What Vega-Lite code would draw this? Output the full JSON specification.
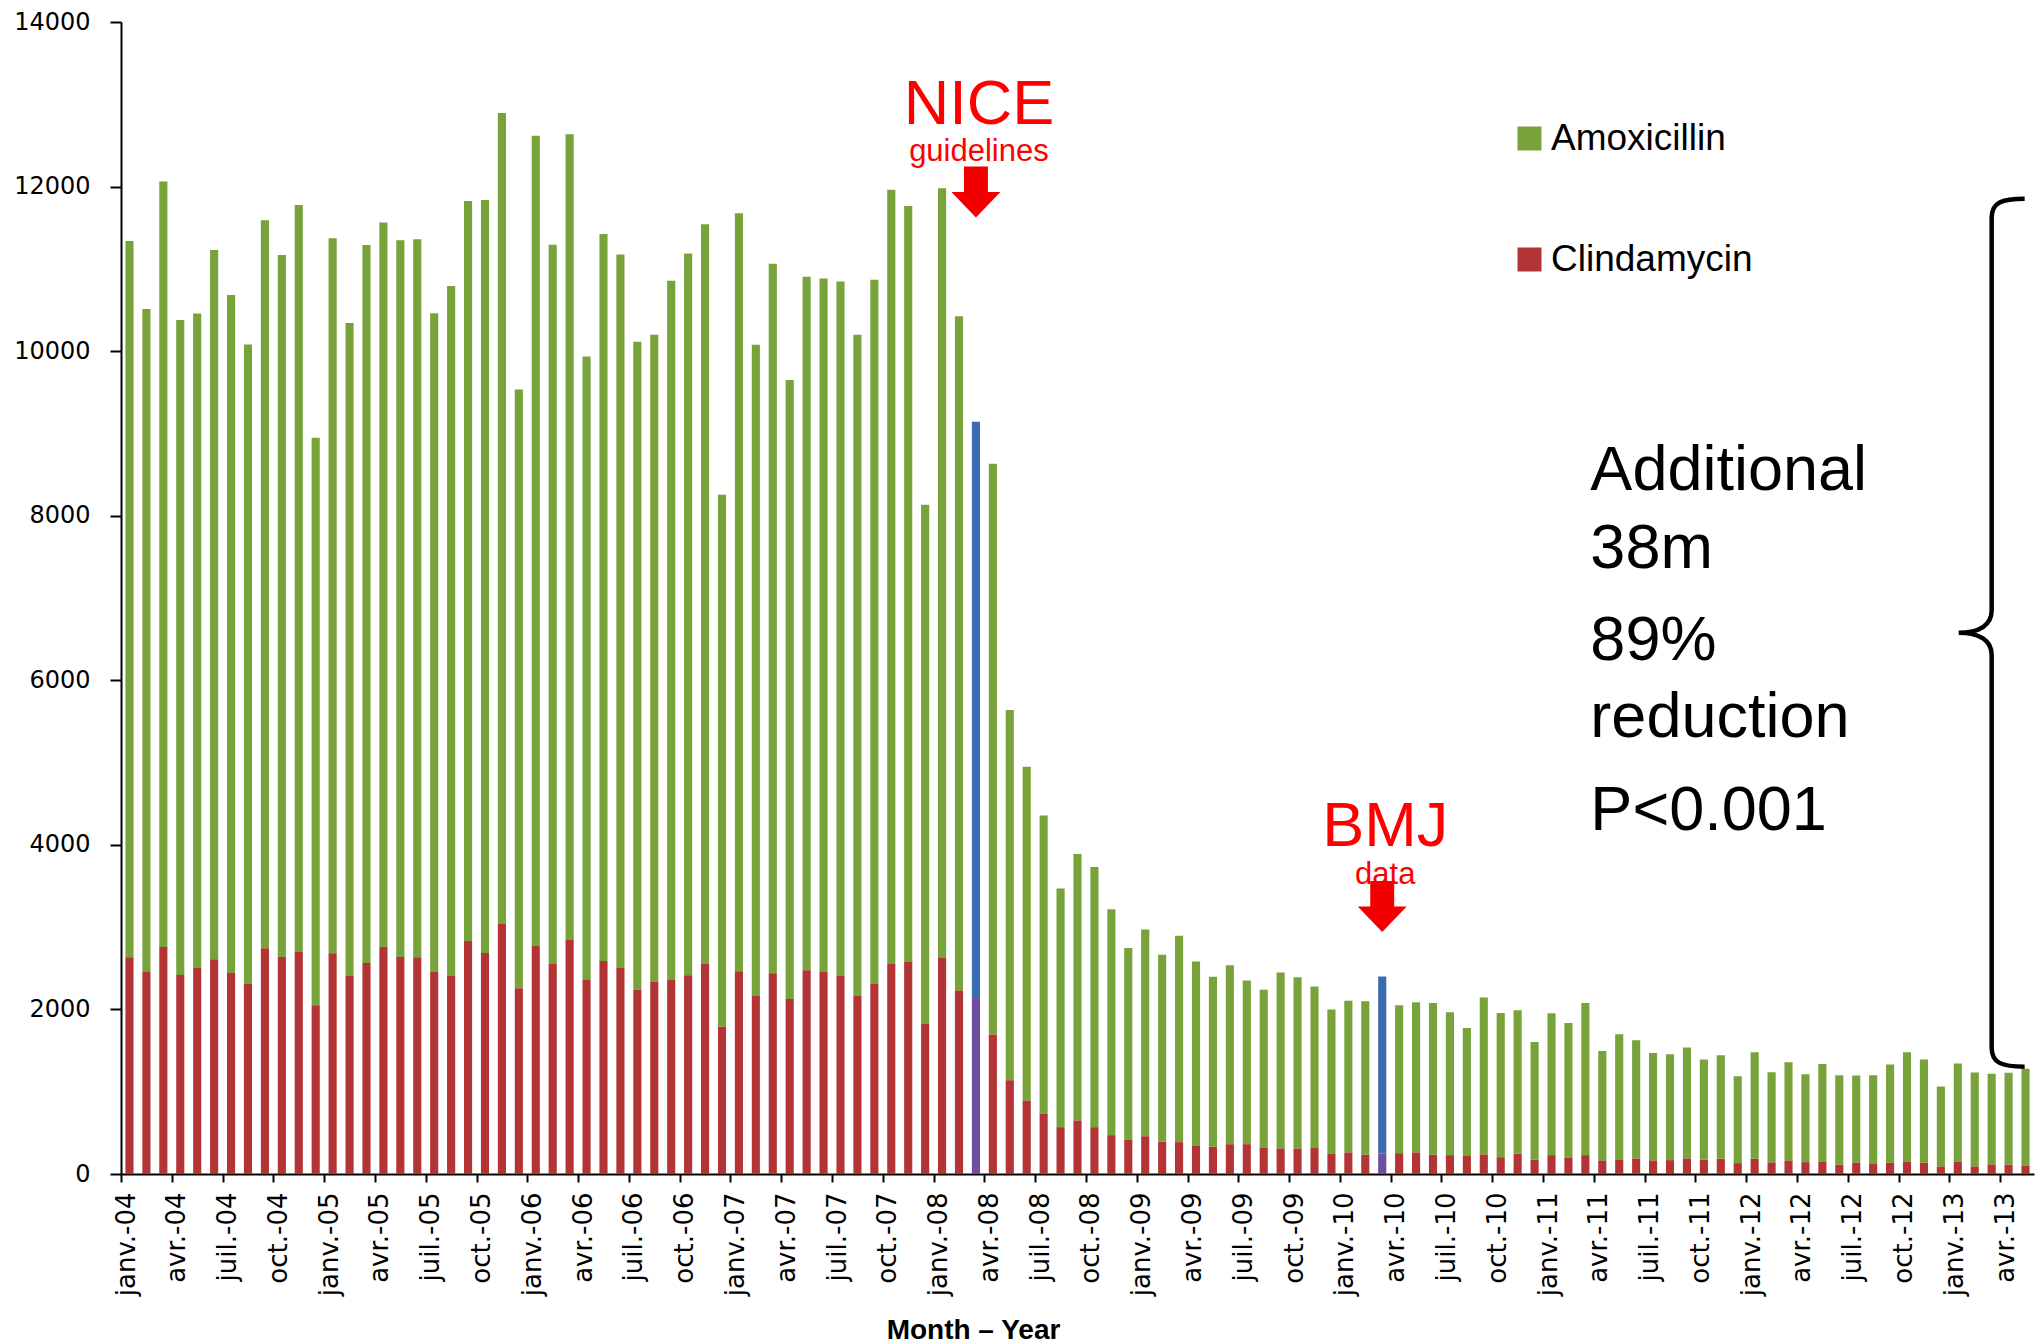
{
  "$schema": "https://vega.github.io/schema/vega-lite/v6.json",
  "width": 1913,
  "height": 1152,
  "autosize": {"type": "none"},
  "padding": {"left": 121, "top": 22, "right": 1, "bottom": 169},
  "background": "white",
  "config": {"view": {"stroke": null}},
  "layer": [
    {
      "data": {"values": [
        {"m":"janv.-04","Amoxicillin":8705,"Clindamycin":2634},
        {"m":"févr.-04","Amoxicillin":8055,"Clindamycin":2456},
        {"m":"mars-04","Amoxicillin":9301,"Clindamycin":2760},
        {"m":"avr.-04","Amoxicillin":7958,"Clindamycin":2419},
        {"m":"mai-04","Amoxicillin":7954,"Clindamycin":2504},
        {"m":"juin-04","Amoxicillin":8619,"Clindamycin":2610},
        {"m":"juil.-04","Amoxicillin":8237,"Clindamycin":2444},
        {"m":"août-04","Amoxicillin":7767,"Clindamycin":2314},
        {"m":"sept.-04","Amoxicillin":8847,"Clindamycin":2743},
        {"m":"oct.-04","Amoxicillin":8530,"Clindamycin":2638},
        {"m":"nov.-04","Amoxicillin":9078,"Clindamycin":2699},
        {"m":"déc.-04","Amoxicillin":6898,"Clindamycin":2051},
        {"m":"janv.-05","Amoxicillin":8688,"Clindamycin":2683},
        {"m":"févr.-05","Amoxicillin":7934,"Clindamycin":2407},
        {"m":"mars-05","Amoxicillin":8725,"Clindamycin":2565},
        {"m":"avr.-05","Amoxicillin":8802,"Clindamycin":2760},
        {"m":"mai-05","Amoxicillin":8709,"Clindamycin":2638},
        {"m":"juin-05","Amoxicillin":8725,"Clindamycin":2634},
        {"m":"juil.-05","Amoxicillin":8002,"Clindamycin":2460},
        {"m":"août-05","Amoxicillin":8384,"Clindamycin":2407},
        {"m":"sept.-05","Amoxicillin":8994,"Clindamycin":2832},
        {"m":"oct.-05","Amoxicillin":9151,"Clindamycin":2687},
        {"m":"nov.-05","Amoxicillin":9850,"Clindamycin":3043},
        {"m":"déc.-05","Amoxicillin":7276,"Clindamycin":2257},
        {"m":"janv.-06","Amoxicillin":9845,"Clindamycin":2772},
        {"m":"févr.-06","Amoxicillin":8741,"Clindamycin":2553},
        {"m":"mars-06","Amoxicillin":9791,"Clindamycin":2845},
        {"m":"avr.-06","Amoxicillin":7576,"Clindamycin":2359},
        {"m":"mai-06","Amoxicillin":8836,"Clindamycin":2589},
        {"m":"juin-06","Amoxicillin":8670,"Clindamycin":2504},
        {"m":"juil.-06","Amoxicillin":7872,"Clindamycin":2241},
        {"m":"août-06","Amoxicillin":7860,"Clindamycin":2338},
        {"m":"sept.-06","Amoxicillin":8491,"Clindamycin":2363},
        {"m":"oct.-06","Amoxicillin":8772,"Clindamycin":2415},
        {"m":"nov.-06","Amoxicillin":8986,"Clindamycin":2557},
        {"m":"déc.-06","Amoxicillin":6467,"Clindamycin":1788},
        {"m":"janv.-07","Amoxicillin":9212,"Clindamycin":2464},
        {"m":"févr.-07","Amoxicillin":7913,"Clindamycin":2164},
        {"m":"mars-07","Amoxicillin":8621,"Clindamycin":2440},
        {"m":"avr.-07","Amoxicillin":7520,"Clindamycin":2128},
        {"m":"mai-07","Amoxicillin":8427,"Clindamycin":2476},
        {"m":"juin-07","Amoxicillin":8427,"Clindamycin":2456},
        {"m":"juil.-07","Amoxicillin":8439,"Clindamycin":2407},
        {"m":"août-07","Amoxicillin":8034,"Clindamycin":2164},
        {"m":"sept.-07","Amoxicillin":8557,"Clindamycin":2310},
        {"m":"oct.-07","Amoxicillin":9403,"Clindamycin":2557},
        {"m":"nov.-07","Amoxicillin":9188,"Clindamycin":2577},
        {"m":"déc.-07","Amoxicillin":6310,"Clindamycin":1824},
        {"m":"janv.-08","Amoxicillin":9354,"Clindamycin":2626},
        {"m":"févr.-08","Amoxicillin":8196,"Clindamycin":2229},
        {"m":"mars-08","Amoxicillin":7002,"Clindamycin":2140,"event":"NICE guidelines"},
        {"m":"avr.-08","Amoxicillin":6938,"Clindamycin":1694},
        {"m":"mai-08","Amoxicillin":4499,"Clindamycin":1140},
        {"m":"juin-08","Amoxicillin":4056,"Clindamycin":893},
        {"m":"juil.-08","Amoxicillin":3621,"Clindamycin":735},
        {"m":"août-08","Amoxicillin":2900,"Clindamycin":569},
        {"m":"sept.-08","Amoxicillin":3238,"Clindamycin":650},
        {"m":"oct.-08","Amoxicillin":3163,"Clindamycin":569},
        {"m":"nov.-08","Amoxicillin":2744,"Clindamycin":472},
        {"m":"déc.-08","Amoxicillin":2329,"Clindamycin":419},
        {"m":"janv.-09","Amoxicillin":2512,"Clindamycin":459},
        {"m":"févr.-09","Amoxicillin":2272,"Clindamycin":391},
        {"m":"mars-09","Amoxicillin":2508,"Clindamycin":387},
        {"m":"avr.-09","Amoxicillin":2237,"Clindamycin":346},
        {"m":"mai-09","Amoxicillin":2066,"Clindamycin":330},
        {"m":"juin-09","Amoxicillin":2176,"Clindamycin":362},
        {"m":"juil.-09","Amoxicillin":1990,"Clindamycin":362},
        {"m":"août-09","Amoxicillin":1918,"Clindamycin":322},
        {"m":"sept.-09","Amoxicillin":2140,"Clindamycin":310},
        {"m":"oct.-09","Amoxicillin":2080,"Clindamycin":310},
        {"m":"nov.-09","Amoxicillin":1958,"Clindamycin":322},
        {"m":"déc.-09","Amoxicillin":1751,"Clindamycin":249},
        {"m":"janv.-10","Amoxicillin":1845,"Clindamycin":261},
        {"m":"févr.-10","Amoxicillin":1867,"Clindamycin":233},
        {"m":"mars-10","Amoxicillin":2151,"Clindamycin":249,"event":"BMJ data"},
        {"m":"avr.-10","Amoxicillin":1797,"Clindamycin":253},
        {"m":"mai-10","Amoxicillin":1825,"Clindamycin":261},
        {"m":"juin-10","Amoxicillin":1846,"Clindamycin":233},
        {"m":"juil.-10","Amoxicillin":1737,"Clindamycin":229},
        {"m":"août-10","Amoxicillin":1550,"Clindamycin":225},
        {"m":"sept.-10","Amoxicillin":1907,"Clindamycin":237},
        {"m":"oct.-10","Amoxicillin":1754,"Clindamycin":204},
        {"m":"nov.-10","Amoxicillin":1745,"Clindamycin":245},
        {"m":"déc.-10","Amoxicillin":1433,"Clindamycin":172},
        {"m":"janv.-11","Amoxicillin":1725,"Clindamycin":229},
        {"m":"févr.-11","Amoxicillin":1636,"Clindamycin":200},
        {"m":"mars-11","Amoxicillin":1850,"Clindamycin":229},
        {"m":"avr.-11","Amoxicillin":1332,"Clindamycin":164},
        {"m":"mai-11","Amoxicillin":1522,"Clindamycin":176},
        {"m":"juin-11","Amoxicillin":1438,"Clindamycin":188},
        {"m":"juil.-11","Amoxicillin":1308,"Clindamycin":164},
        {"m":"août-11","Amoxicillin":1288,"Clindamycin":168},
        {"m":"sept.-11","Amoxicillin":1349,"Clindamycin":188},
        {"m":"oct.-11","Amoxicillin":1219,"Clindamycin":172},
        {"m":"nov.-11","Amoxicillin":1259,"Clindamycin":184},
        {"m":"déc.-11","Amoxicillin":1056,"Clindamycin":132},
        {"m":"janv.-12","Amoxicillin":1296,"Clindamycin":184},
        {"m":"févr.-12","Amoxicillin":1097,"Clindamycin":140},
        {"m":"mars-12","Amoxicillin":1194,"Clindamycin":164},
        {"m":"avr.-12","Amoxicillin":1069,"Clindamycin":144},
        {"m":"mai-12","Amoxicillin":1186,"Clindamycin":152},
        {"m":"juin-12","Amoxicillin":1089,"Clindamycin":111},
        {"m":"juil.-12","Amoxicillin":1060,"Clindamycin":136},
        {"m":"août-12","Amoxicillin":1072,"Clindamycin":128},
        {"m":"sept.-12","Amoxicillin":1194,"Clindamycin":136},
        {"m":"oct.-12","Amoxicillin":1328,"Clindamycin":152},
        {"m":"nov.-12","Amoxicillin":1255,"Clindamycin":136},
        {"m":"déc.-12","Amoxicillin":972,"Clindamycin":91},
        {"m":"janv.-13","Amoxicillin":1190,"Clindamycin":152},
        {"m":"févr.-13","Amoxicillin":1142,"Clindamycin":91},
        {"m":"mars-13","Amoxicillin":1102,"Clindamycin":115},
        {"m":"avr.-13","Amoxicillin":1118,"Clindamycin":111},
        {"m":"mai-13","Amoxicillin":1177,"Clindamycin":103}
      ]},
      "transform": [{"fold": ["Amoxicillin", "Clindamycin"], "as": ["drug", "n"]}],
      "mark": {"type": "bar", "width": {"band": 0.48}},
      "encoding": {
        "x": {
          "field": "m", "type": "ordinal",
          "scale": {"paddingInner": 0, "paddingOuter": 0.001, "domain": ["janv.-04","févr.-04","mars-04","avr.-04","mai-04","juin-04","juil.-04","août-04","sept.-04","oct.-04","nov.-04","déc.-04","janv.-05","févr.-05","mars-05","avr.-05","mai-05","juin-05","juil.-05","août-05","sept.-05","oct.-05","nov.-05","déc.-05","janv.-06","févr.-06","mars-06","avr.-06","mai-06","juin-06","juil.-06","août-06","sept.-06","oct.-06","nov.-06","déc.-06","janv.-07","févr.-07","mars-07","avr.-07","mai-07","juin-07","juil.-07","août-07","sept.-07","oct.-07","nov.-07","déc.-07","janv.-08","févr.-08","mars-08","avr.-08","mai-08","juin-08","juil.-08","août-08","sept.-08","oct.-08","nov.-08","déc.-08","janv.-09","févr.-09","mars-09","avr.-09","mai-09","juin-09","juil.-09","août-09","sept.-09","oct.-09","nov.-09","déc.-09","janv.-10","févr.-10","mars-10","avr.-10","mai-10","juin-10","juil.-10","août-10","sept.-10","oct.-10","nov.-10","déc.-10","janv.-11","févr.-11","mars-11","avr.-11","mai-11","juin-11","juil.-11","août-11","sept.-11","oct.-11","nov.-11","déc.-11","janv.-12","févr.-12","mars-12","avr.-12","mai-12","juin-12","juil.-12","août-12","sept.-12","oct.-12","nov.-12","déc.-12","janv.-13","févr.-13","mars-13","avr.-13","mai-13"]},
          "axis": {
            "title": "Month – Year",
            "titleFont": "Liberation Sans", "titleFontSize": 28, "titleFontWeight": "bold", "titleColor": "black",
            "titleX": 852, "titleY": 164, "titleAlign": "center", "titleBaseline": "alphabetic",
            "bandPosition": 0.5, "tickOffset": -8.465,
            "values": ["janv.-04","avr.-04","juil.-04","oct.-04","janv.-05","avr.-05","juil.-05","oct.-05","janv.-06","avr.-06","juil.-06","oct.-06","janv.-07","avr.-07","juil.-07","oct.-07","janv.-08","avr.-08","juil.-08","oct.-08","janv.-09","avr.-09","juil.-09","oct.-09","janv.-10","avr.-10","juil.-10","oct.-10","janv.-11","avr.-11","juil.-11","oct.-11","janv.-12","avr.-12","juil.-12","oct.-12","janv.-13","avr.-13"],
            "labelAngle": -90, "labelAlign": "right", "labelBaseline": "middle", "labelOffset": 5,
            "labelFont": "DejaVu Sans", "labelFontSize": 26, "labelColor": "black", "labelPadding": 10,
            "labelOverlap": false, "labelBound": false, "labelFlush": false,
            "tickSize": 8, "tickWidth": 2, "tickColor": "black", "domainColor": "black", "domainWidth": 2, "grid": false
          }
        },
        "y": {
          "field": "n", "type": "quantitative", "stack": "zero",
          "scale": {"domain": [0, 14000], "nice": false},
          "axis": {
            "title": null, "values": [0,2000,4000,6000,8000,10000,12000,14000], "format": "d",
            "labelFont": "DejaVu Sans", "labelFontSize": 24, "labelColor": "black", "labelPadding": 20,
            "tickSize": 11, "tickWidth": 2, "tickColor": "black", "domainColor": "black", "domainWidth": 2, "grid": false
          }
        },
        "color": {
          "field": "drug", "type": "nominal",
          "scale": {"domain": ["Amoxicillin", "Clindamycin"], "range": ["#78a23a", "#b23434"]},
          "condition": [
            {"test": "datum.event && datum.drug === 'Amoxicillin'", "value": "#3b6db1"},
            {"test": "datum.event && datum.drug === 'Clindamycin'", "value": "#6e4e9e"}
          ],
          "legend": {
            "title": null, "orient": "none", "legendX": 1390, "legendY": 98, "padding": 0,
            "symbolType": "square", "symbolSize": 576, "symbolStrokeWidth": 0,
            "labelFont": "Liberation Sans", "labelFontSize": 37, "labelColor": "black", "labelOffset": 3,
            "labelLimit": 500, "rowPadding": 83
          }
        },
        "order": {"field": "drug", "sort": "descending"}
      }
    },
    {
      "data": {"values": [
        {"m": "mars-08", "label": "NICE", "val": 12761},
        {"m": "mars-10", "label": "BMJ", "val": 3990}
      ]},
      "mark": {"type": "text", "align": "center", "baseline": "alphabetic", "dx": 3, "font": "Liberation Sans", "fontSize": 63, "color": "#ff0000"},
      "encoding": {
        "x": {"field": "m", "type": "ordinal"},
        "y": {"field": "val", "type": "quantitative"},
        "text": {"field": "label"}
      }
    },
    {
      "data": {"values": [
        {"m": "mars-08", "label": "guidelines", "val": 12310},
        {"m": "mars-10", "label": "data", "val": 3529}
      ]},
      "mark": {"type": "text", "align": "center", "baseline": "alphabetic", "dx": 3, "font": "Liberation Sans", "fontSize": 31, "color": "#ff0000"},
      "encoding": {
        "x": {"field": "m", "type": "ordinal"},
        "y": {"field": "val", "type": "quantitative"},
        "text": {"field": "label"}
      }
    },
    {
      "data": {"values": [
        {"m": "mars-08", "val": 11935},
        {"m": "mars-10", "val": 3250}
      ]},
      "mark": {"type": "point", "filled": true, "dx": 3, "shape": "M-0.47,-1 L0.47,-1 L0.47,0 L0.96,0 L0,1 L-0.96,0 L-0.47,0 Z", "size": 2601, "color": "#f20000", "opacity": 1, "strokeWidth": 0},
      "encoding": {
        "x": {"field": "m", "type": "ordinal"},
        "y": {"field": "val", "type": "quantitative"}
      }
    },
    {
      "data": {"values": [
        {"m": "mars-11", "label": "Additional", "val": 8308},
        {"m": "mars-11", "label": "38m", "val": 7362},
        {"m": "mars-11", "label": "89%", "val": 6250},
        {"m": "mars-11", "label": "reduction", "val": 5315},
        {"m": "mars-11", "label": "P<0.001", "val": 4185}
      ]},
      "mark": {"type": "text", "align": "left", "baseline": "alphabetic", "dx": 5, "font": "Liberation Sans", "fontSize": 63, "color": "#000000"},
      "encoding": {
        "x": {"field": "m", "type": "ordinal"},
        "y": {"field": "val", "type": "quantitative"},
        "text": {"field": "label"}
      }
    },
    {
      "data": {"values": [
        {"m": "mars-13", "val": 6578}
      ]},
      "mark": {"type": "point", "filled": false, "shape": "M0.076,-1 C0.023,-1 0,-0.991 0,-0.956 L0,-0.051 C0,-0.018 -0.028,0 -0.076,0 C-0.028,0 0,0.018 0,0.051 L0,0.956 C0,0.991 0.023,1 0.076,1", "size": 753424, "stroke": "#000000", "strokeWidth": 4.5, "opacity": 1},
      "encoding": {
        "x": {"field": "m", "type": "ordinal"},
        "y": {"field": "val", "type": "quantitative"}
      }
    }
  ]
}
